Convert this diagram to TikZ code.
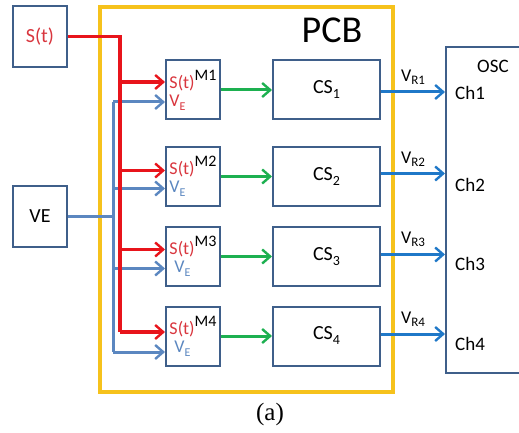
\documentclass[tikz,border=0pt]{standalone}
\usepackage{fontspec}
\setmainfont{Carlito}
\newfontfamily\capfont{Liberation Serif}
\usepackage{tikz}
\usetikzlibrary{arrows.meta, positioning, calc}
\definecolor{frame}{HTML}{3F5F8A}
\definecolor{sigred}{HTML}{E8141B}
\definecolor{txtred}{HTML}{D9363E}
\definecolor{veblue}{HTML}{5B87C0}
\definecolor{vrblue}{HTML}{1F78C8}
\definecolor{mixgreen}{HTML}{1DB050}
\definecolor{pcbyellow}{HTML}{F6C21C}
\tikzset{
  blk/.style={rectangle, draw=frame, line width=2pt, fill=white, align=center, font=\fontsize{20}{22}\selectfont, inner sep=2pt},
  src/.style={blk, minimum width=54pt, minimum height=61pt},
  mixer/.style={blk, minimum width=54pt, minimum height=59pt, align=left, inner sep=3pt, font=\fontsize{18}{18}\selectfont},
  csblk/.style={blk, minimum width=107pt, minimum height=59pt},
  board/.style={rectangle, draw=pcbyellow, line width=3.4pt, minimum width=293pt, minimum height=385pt},
  txt/.style={inner sep=0pt, font=\fontsize{19}{21}\selectfont},
  tip/.style={-{Straight Barb[length=8pt,width=14pt,line width=2.4pt]}},
  sig/.style={draw=sigred, line width=3.6pt},
  sigarr/.style={sig, tip},
  vel/.style={draw=veblue, line width=3pt},
  vearr/.style={vel, tip},
  outarr/.style={draw=mixgreen, line width=3pt, tip},
  rdarr/.style={draw=vrblue, line width=3pt, tip},
  vrlab/.style={inner sep=0pt, font=\fontsize{18}{20}\selectfont},
}
\newcommand{\lowered}[3]{\raisebox{#1}{\fontsize{#2}{#2}\selectfont #3}}
\newcommand{\mixtext}[3]{\textcolor{txtred}{S(t)}\lowered{8pt}{16}{#1}\\\hspace*{#3}\textcolor{#2}{V\lowered{-4pt}{12}{E}}}

\begin{document}
\begin{tikzpicture}[x=1pt, y=-1pt]
  \clip (0,0) rectangle (519,433);
  \node[board] (pcb) at (246.5,199.5) {};
  \node[txt, font=\fontsize{38}{40}\selectfont] (pcblab) at (332,30) {PCB};

  \node[src] (st) at (40,36.5) {\textcolor{txtred}{S(t)}};
  \node[src] (ve) at (40,216.5) {VE};

  \node[mixer] (m1) at (193,90) {\mixtext{M1}{txtred}{0pt}};
  \node[mixer] (m2) at (193,176.5) {\mixtext{M2}{veblue}{0pt}};
  \node[mixer] (m3) at (193,256.5) {\mixtext{M3}{veblue}{5pt}};
  \node[mixer] (m4) at (193,336) {\mixtext{M4}{veblue}{5pt}};

  \node[csblk] (cs1) at (326.5,90) {CS\lowered{-5pt}{14}{1}};
  \node[csblk] (cs2) at (326.5,176.5) {CS\lowered{-5pt}{14}{2}};
  \node[csblk] (cs3) at (326.5,256.5) {CS\lowered{-5pt}{14}{3}};
  \node[csblk] (cs4) at (326.5,336) {CS\lowered{-5pt}{14}{4}};

  \node[blk, minimum width=90pt, minimum height=326pt] (osc) at (491,210) {};
  \node[txt, anchor=west] (osclab) at (477,66) {OSC};
  \node[txt, anchor=west] (ch1) at (455,93) {Ch1};
  \node[txt, anchor=west] (ch2) at (455,185) {Ch2};
  \node[txt, anchor=west] (ch3) at (455,264) {Ch3};
  \node[txt, anchor=west] (ch4) at (455,344) {Ch4};

  \coordinate (m1r) at ([yshift=8pt]m1.west);
  \coordinate (m2r) at ([yshift=6pt]m2.west);
  \coordinate (m3r) at ([yshift=7pt]m3.west);
  \coordinate (m4r) at ([yshift=4pt]m4.west);
  \coordinate (m1b) at ([yshift=-12pt]m1.west);
  \coordinate (m2b) at ([yshift=-12pt]m2.west);
  \coordinate (m3b) at ([yshift=-12pt]m3.west);
  \coordinate (m4b) at ([yshift=-16pt]m4.west);
  \coordinate (rbus) at (120,36.5);
  \coordinate (vbus) at (113,216.5);

  \draw[vel] (ve.east) -- (vbus);
  \draw[vel] (vbus |- m1b) -- (vbus |- m4b);
  \draw[vearr] (vbus |- m1b) -- (m1b);
  \draw[vearr] (vbus |- m2b) -- (m2b);
  \draw[vearr] (vbus |- m3b) -- (m3b);
  \draw[vearr] (vbus |- m4b) -- (m4b);

  \draw[sig] (st.east) -- (rbus) -- (rbus |- m4r);
  \draw[sigarr] (rbus |- m1r) -- (m1r);
  \draw[sigarr] (rbus |- m2r) -- (m2r);
  \draw[sigarr] (rbus |- m3r) -- (m3r);
  \draw[sigarr] (rbus |- m4r) -- (m4r);

  \draw[outarr] (m1) -- (cs1);
  \draw[outarr] (m2) -- (cs2);
  \draw[outarr] (m3) -- (cs3);
  \draw[outarr] (m4) -- (cs4);

  \draw[rdarr] ([yshift=-2pt]cs1.east) -- node[vrlab, above=6pt, pos=0.5]{V\lowered{-3pt}{13}{R1}} ([yshift=-2pt]cs1.east -| osc.west);
  \draw[rdarr] ([yshift=3pt]cs2.east) -- node[vrlab, above=6pt, pos=0.5]{V\lowered{-3pt}{13}{R2}} ([yshift=3pt]cs2.east -| osc.west);
  \draw[rdarr] ([yshift=2pt]cs3.east) -- node[vrlab, above=6pt, pos=0.5]{V\lowered{-3pt}{13}{R3}} ([yshift=2pt]cs3.east -| osc.west);
  \draw[rdarr] ([yshift=2pt]cs4.east) -- node[vrlab, above=6pt, pos=0.5]{V\lowered{-3pt}{13}{R4}} ([yshift=2pt]cs4.east -| osc.west);

  \node[inner sep=0pt, font=\capfont\fontsize{25}{27}\selectfont] (cap) at (270,414) {(a)};
\end{tikzpicture}
\end{document}
